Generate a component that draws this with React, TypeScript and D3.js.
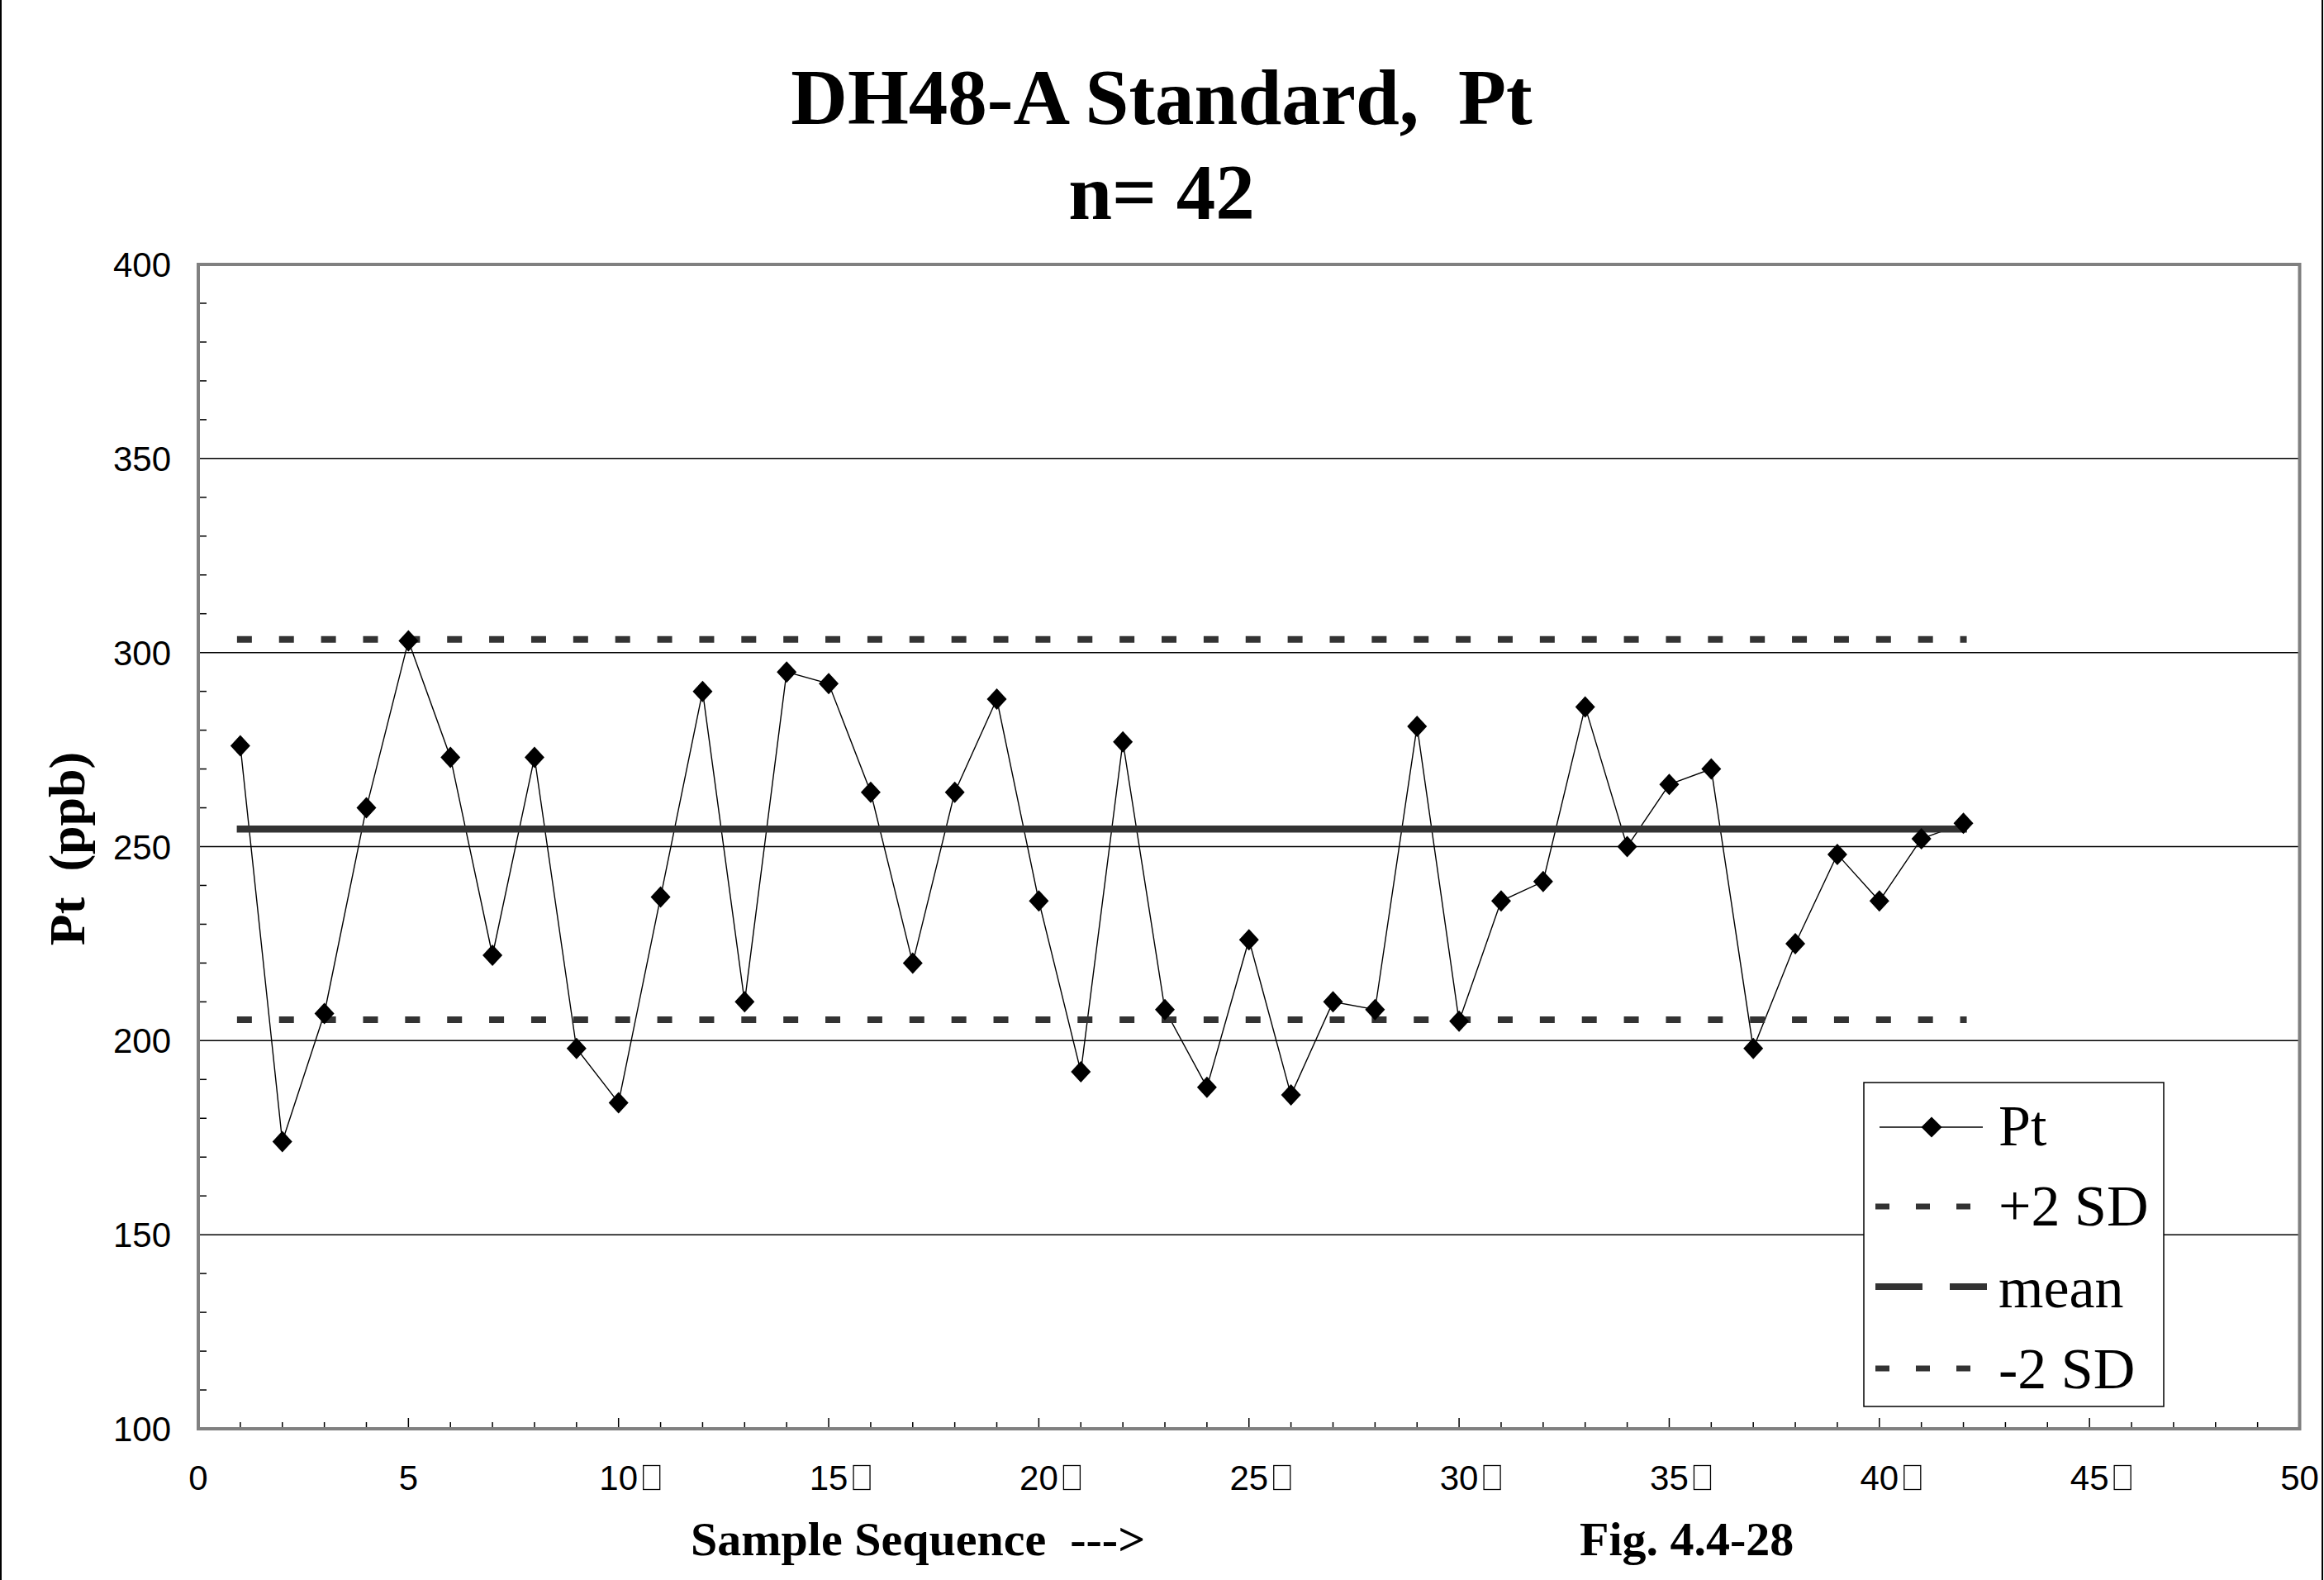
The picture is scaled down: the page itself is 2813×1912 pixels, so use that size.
import React from 'react';
import * as d3 from 'd3';

// ---------- data ----------
const sampleSeq = [
  1, 2, 3, 4, 5, 6, 7, 8, 9, 10, 11, 12, 13, 14, 15, 16, 17, 18, 19, 20, 21,
  22, 23, 24, 25, 26, 27, 28, 29, 30, 31, 32, 33, 34, 35, 36, 37, 38, 39, 40, 41, 42,
];
const ptValues = [
  276, 174, 207, 260, 303, 273, 222, 273, 198, 184, 237, 290, 210, 295, 292, 264, 220,
  264, 288, 236, 192, 277, 208, 188, 226, 186, 210, 208, 281, 205, 236, 241, 286, 250,
  266, 270, 198, 225, 248, 236, 252, 256,
];
const meanValue = 254.5;
const plus2SD = 303.4;
const minus2SD = 205.4;
const refStart = 1;
const refEnd = 42;

const xTickValues = [0, 5, 10, 15, 20, 25, 30, 35, 40, 45, 50];
const xTickLabels = ['0', '5', '10', '15', '20', '25', '30', '35', '40', '45', '50'];
const xTickBoxed = [false, false, true, true, true, true, true, true, true, true, false];
const yTickValues = [100, 150, 200, 250, 300, 350, 400];
const yTickLabels = ['100', '150', '200', '250', '300', '350', '400'];
const legendLabels = ['Pt', '+2 SD', 'mean', '-2 SD'];

const titleLine1 = 'DH48-A Standard,  Pt';
const titleLine2 = 'n= 42';
const yTitle = 'Pt  (ppb)';
const xTitle = 'Sample Sequence  --->';
const figLabel = 'Fig. 4.4-28';

// ---------- layout ----------
const W = 2813;
const H = 1912;
const L = 240;
const R = 2783.5;
const T = 320;
const B = 1729;

const serif = '"Liberation Serif", "Times New Roman", Times, serif';
const sans = '"Liberation Sans", Arial, Helvetica, sans-serif';
const darkGray = '#333333';

function diamond(cx: number, cy: number, hw = 12, hh = 13) {
  return `M${cx},${cy - hh}L${cx + hw},${cy}L${cx},${cy + hh}L${cx - hw},${cy}Z`;
}

export default function App() {
  const x = d3.scaleLinear().domain([0, 50]).range([L, R]);
  const y = d3.scaleLinear().domain([100, 400]).range([B, T]);

  const line = d3
    .line<number>()
    .x((_, i) => x(sampleSeq[i]))
    .y((d) => y(d));

  const xMinor = d3.range(1, 50).filter((v) => v % 5 !== 0);
  const xMajor = d3.range(5, 51, 5);
  const yMinor = d3.range(110, 400, 10).filter((v) => v % 50 !== 0);
  const grid = yTickValues.filter((v) => v > 100 && v < 400);

  const unit = x(1) - x(0);
  const sdDash = `10 ${unit - 10}`;

  // legend geometry
  const lgX = 2256;
  const lgY = 1310;
  const lgW = 363;
  const lgH = 392;
  const rowSym = [1364, 1460, 1557, 1656];
  const rowBase = [1386, 1483, 1582, 1680];

  return (
    <svg
      width={W}
      height={H}
      viewBox={`0 0 ${W} ${H}`}
      style={{ position: 'absolute', left: 0, top: 0, display: 'block', background: '#fff' }}
    >
      <rect x={0} y={0} width={W} height={H} fill="#fff" />
      {/* outer frame sides */}
      <line x1={1} y1={0} x2={1} y2={H} stroke="#000" strokeWidth={2} />
      <line x1={2811} y1={0} x2={2811} y2={H} stroke="#000" strokeWidth={2} />

      {/* titles */}
      <text
        x={1406}
        y={150}
        textAnchor="middle"
        fontFamily={serif}
        fontWeight="bold"
        fontSize={95}
        style={{ whiteSpace: 'pre' }}
      >
        {titleLine1}
      </text>
      <text x={1406} y={265} textAnchor="middle" fontFamily={serif} fontWeight="bold" fontSize={95}>
        {titleLine2}
      </text>

      {/* gridlines */}
      {grid.map((v) => (
        <line key={'g' + v} x1={L} x2={R} y1={y(v)} y2={y(v)} stroke="#000" strokeWidth={1.5} />
      ))}

      {/* y minor ticks */}
      {yMinor.map((v) => (
        <line key={'ym' + v} x1={L} x2={L + 10} y1={y(v)} y2={y(v)} stroke="#000" strokeWidth={1.5} />
      ))}
      {/* x ticks */}
      {xMinor.map((v) => (
        <line key={'xm' + v} x1={x(v)} x2={x(v)} y1={B} y2={B - 8} stroke="#000" strokeWidth={1.5} />
      ))}
      {xMajor.map((v) => (
        <line key={'xM' + v} x1={x(v)} x2={x(v)} y1={B} y2={B - 13} stroke="#000" strokeWidth={1.5} />
      ))}

      {/* plot border */}
      <rect x={L} y={T} width={R - L} height={B - T} fill="none" stroke="#808080" strokeWidth={4} />

      {/* y tick labels */}
      {yTickValues.map((v, i) => (
        <text key={'yl' + v} x={207} y={y(v) + 15} textAnchor="end" fontFamily={sans} fontSize={42}>
          {yTickLabels[i]}
        </text>
      ))}
      {/* x tick labels */}
      {xTickValues.map((v, i) => (
        <g key={'xl' + v}>
          <text x={x(v)} y={1803} textAnchor="middle" fontFamily={sans} fontSize={42}>
            {xTickLabels[i]}
          </text>
          {xTickBoxed[i] && (
            <rect x={x(v) + 30} y={1773.5} width={20} height={29} fill="none" stroke="#000" strokeWidth={1.3} />
          )}
        </g>
      ))}

      {/* axis titles */}
      <text
        transform={`translate(102, 1027) rotate(-90)`}
        textAnchor="middle"
        fontFamily={serif}
        fontWeight="bold"
        fontSize={62}
        style={{ whiteSpace: 'pre' }}
      >
        {yTitle}
      </text>
      <text x={836} y={1882} fontFamily={serif} fontWeight="bold" fontSize={58} style={{ whiteSpace: 'pre' }}>
        {xTitle}
      </text>
      <text x={1912} y={1882} fontFamily={serif} fontWeight="bold" fontSize={58}>
        {figLabel}
      </text>

      {/* data line */}
      <path d={line(ptValues) || ''} fill="none" stroke="#000" strokeWidth={1.4} />

      {/* reference lines */}
      <line
        x1={x(refStart)}
        x2={x(refEnd)}
        y1={y(plus2SD)}
        y2={y(plus2SD)}
        stroke={darkGray}
        strokeWidth={8}
        strokeDasharray={sdDash}
        strokeLinecap="square"
      />
      <line
        x1={x(refStart)}
        x2={x(refEnd)}
        y1={y(meanValue)}
        y2={y(meanValue)}
        stroke={darkGray}
        strokeWidth={8.5}
        strokeLinecap="square"
      />
      <line
        x1={x(refStart)}
        x2={x(refEnd)}
        y1={y(minus2SD)}
        y2={y(minus2SD)}
        stroke={darkGray}
        strokeWidth={8}
        strokeDasharray={sdDash}
        strokeLinecap="square"
      />

      {/* markers */}
      {ptValues.map((v, i) => (
        <path key={'m' + i} d={diamond(x(sampleSeq[i]), y(v))} fill="#000" />
      ))}

      {/* legend */}
      <rect x={lgX} y={lgY} width={lgW} height={lgH} fill="#fff" stroke="#000" strokeWidth={1.5} />
      <line x1={2275} x2={2400} y1={rowSym[0]} y2={rowSym[0]} stroke="#000" strokeWidth={1.4} />
      <path d={diamond(2338, rowSym[0], 12.5, 12.5)} fill="#000" />
      {[1, 3].map((r) => (
        <g key={'ld' + r}>
          {[2270, 2319, 2368].map((sx) => (
            <rect key={sx} x={sx} y={rowSym[r] - 3.5} width={17} height={7} fill={darkGray} />
          ))}
        </g>
      ))}
      <rect x={2270} y={rowSym[2] - 4} width={57} height={8} fill={darkGray} />
      <rect x={2360} y={rowSym[2] - 4} width={45} height={8} fill={darkGray} />
      {legendLabels.map((t, i) => (
        <text key={'lt' + i} x={2419} y={rowBase[i]} fontFamily={serif} fontSize={70}>
          {t}
        </text>
      ))}
    </svg>
  );
}
